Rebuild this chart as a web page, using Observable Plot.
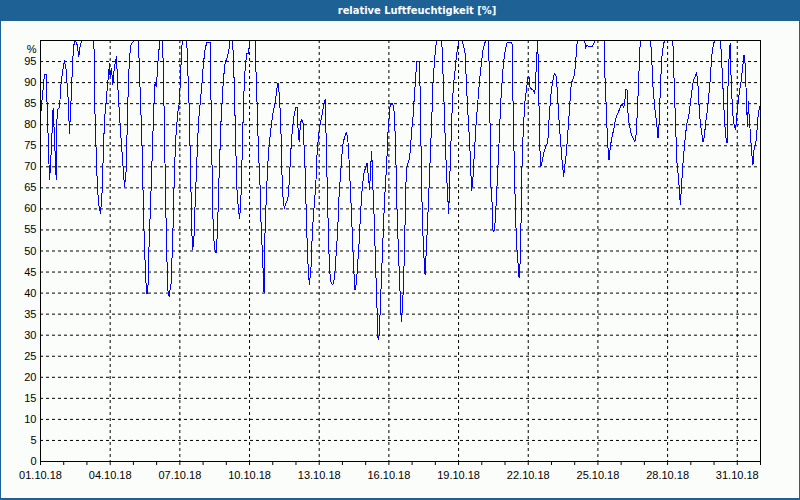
<!DOCTYPE html>
<html><head><meta charset="utf-8">
<script src="https://cdn.jsdelivr.net/npm/d3@7"></script>
<script src="https://cdn.jsdelivr.net/npm/@observablehq/plot@0.6"></script>
<style>
html,body{margin:0;padding:0;background:#fbfdfb;}
#wrap{position:relative;width:800px;height:500px;overflow:hidden;background:#fbfdfb;}
#bar{position:absolute;left:0;top:0;width:800px;height:21px;background:#1d6195;}
#title{position:absolute;left:0;top:0;width:834px;height:21px;line-height:21px;text-align:center;color:#fff;font-family:"DejaVu Sans Condensed","DejaVu Sans",sans-serif;font-stretch:condensed;font-weight:bold;font-size:11px;}
#chart{position:absolute;left:0;top:21px;}
#border{position:absolute;left:0;top:0;width:800px;height:500px;box-sizing:border-box;border:solid #1d6195;border-width:0 1px 2px 1px;pointer-events:none;}
</style></head>
<body><div id="wrap"><div id="bar"></div><div id="title">relative Luftfeuchtigkeit [%]</div><div id="chart"></div><div id="border"></div></div>
<script>
// hours after 01.10.18 00:00
const hours = [
0,4.1,5.8,9.3,10.3,13.0,13.7,16.2,17.2,19.6,21.3,23.0,24.8,26.5,28.9,29.9,31.0,32.7,34.1,35.8,37.8,39.6,40.9,42.7,55.1,55.8,56.4,58.5,59.9,61.9,63.3,66.1,69.5,71.3,71.9,73.3,74.7,76.4,78.5,79.9,82.6,85.0,86.8,88.5,90.2,91.9,93.6,96.4,101.2,102.2,104.7,106.7,108.1,109.5,110.9,111.9,114.3,117.1,118.4,119.8,121.2,123.3,126.0,127.0,128.8,130.1,131.5,132.9,135.0,136.7,138.4,140.1,141.8,143.6,146.0,147.4,
151.1,152.2,153.6,154.9,156.3,157.0,158.4,159.7,161.5,163.2,164.9,166.6,168.4,170.1,171.8,175.3,176.0,177.0,178.4,179.7,181.5,182.8,184.5,186.6,189.0,190.7,193.2,194.9,195.9,198.3,199.4,201.1,202.8,204.5,205.9,207.3,208.7,210.0,211.4,213.1,214.9,216.2,221.7,222.4,223.8,225.2,226.9,227.9,229.3,230.3,231.0,232.1,233.8,235.5,237.2,239.0,240.7,242.4,244.1,245.5,246.9,248.3,249.3,250.7,252.0,254.1,255.5,256.9,258.2,259.6,261.0,262.4,263.8,265.1,266.5,267.5,268.6,270.0,271.3,273.4,275.1,276.8,277.9,279.6,281.0,283.0,284.4,285.8,287.2,288.9,290.6,292.3,294.1,
295.4,296.5,298.2,299.6,301.6,303.0,304.4,305.8,307.1,308.5,309.9,311.3,312.7,314.4,316.1,317.5,318.8,320.6,322.3,323.7,325.0,326.4,327.8,329.2,330.9,332.6,334.3,336.1,337.4,338.8,340.2,340.9,342.3,343.6,345.0,346.4,347.8,348.8,349.8,350.9,352.6,354.0,355.4,356.7,357.8,358.8,359.8,361.2,362.9,364.3,365.7,367.1,368.4,369.8,371.2,372.2,372.9,374.3,375.7,376.7,377.4,378.8,380.8,382.2,383.6,385.0,386.3,387.7,388.8,391.2,392.2,393.6,394.6,396.0,397.4,398.7,400.1,401.5,402.9,404.3,405.6,407.0,408.4,409.4,414.6,415.3,417.0,418.7,420.4,421.8,423.2,424.9,426.6,428.4,429.7,431.1,432.5,435.9,438.7,441.1,443.5,444.9,445.6,
447.0,448.7,450.4,452.1,453.8,455.6,457.3,459.0,460.7,463.1,464.2,465.5,466.9,467.6,468.6,470.0,471.7,473.8,475.5,477.3,478.6,480.4,482.1,487.2,488.3,489.7,491.0,492.4,493.5,494.5,495.5,496.5,497.2,498.6,500.3,502.1,503.8,504.8,505.8,507.6,508.9,510.3,511.4,512.4,513.8,514.8,515.8,516.9,518.6,520.0,522.0,524.1,525.5,527.2,528.9,531.0,533.1,534.1,535.8,537.5,539.2,540.6,541.6,543.4,545.1,546.8,548.5,550.3,552.0,553.7,554.7,562.3,563.3,564.7,566.1,570.2,572.0,573.0,582.3,583.0,584.7,585.7,586.8,587.5,588.8,590.6,592.3,
594.0,595.7,597.4,599.2,600.9,602.6,603.6,604.7,606.1,607.4,608.8,610.2,611.6,613.0,614.3,615.7,617.1,618.5,619.8,630.2,631.2,632.9,635.0,637.0,638.1,639.5,640.5,642.2,643.9,645.7,652.5,653.6,654.9,656.3,657.7,659.4,660.5,661.2,662.5,663.9,665.3,666.7,668.0,669.8,671.5,673.2,674.9,676.7,677.7,679.1,680.4,681.8,683.2,684.6,686.0,687.3,688.7,690.4,692.1,693.5,695.6,697.3,702.5,703.5,705.2,706.6,708.0,709.4,710.4,711.8,712.8,713.8,715.6,717.0,718.3,719.7,720.7,722.5,724.2,725.6,726.9,728.0,729.0,730.0,730.7,731.4,732.1,733.5,734.8,736.2,737.6,739.0,740.4,741.7,743.1
];
// relative humidity in %
const humidity = [
82,92,92,67,69.7,84,81,67,83.5,84,90,93,95.2,93,85,78,82.7,92,98.6,100,99,96.2,98.6,100,100,93,81,67,61.4,59,62,81,90,94.6,91.4,93.4,89.5,93.8,96.2,89,78.8,70.9,65.3,69,85,96,99,100,100,93,77,56.6,47,40,40,49.5,65,84.3,89.9,89,94.6,100,100,93,69,53,40.8,39.2,42.4,53.4,69,78,82.7,85.5,98.6,100,
100,93,84.3,70.9,55.8,50.3,51.9,60.6,71,80.4,85,89,94.6,98,99.5,99.5,89,73.2,55.8,50.7,49.5,54.2,67.7,81.2,90.7,94.6,96.2,98.2,100,100,96.2,81.2,65.3,59.8,57.8,63.7,75.6,86.7,93,97,97,100,100,94.6,85,74,65.3,56.6,49.5,44,40,55.8,65.3,73.2,77.2,80.8,83.5,85,88.3,89.9,86.7,80.4,69.3,62.2,60.2,61.8,62,66,71.7,77.2,80.4,82.7,84,84.2,77.2,76,80.4,81.2,80.4,69.3,55,44.7,42,46.3,55,61.4,65.3,73.2,77.2,80,82,84.3,86,
74.8,63,48.7,42.8,42,42.4,45.5,50.3,55,63,67.7,72.4,75.6,77.2,78.1,76.8,71.7,63,53.4,45.5,40.8,42.4,47,51.9,59.8,65.3,68.5,70,70.9,67.7,64.5,69.3,73.6,64.5,56.6,45.5,36,28.9,29.7,35,45.5,53.4,61.4,66.9,70.9,77.2,80.4,84.3,85.1,84.7,82.7,73.2,59.8,50.3,42.4,36,33.3,37.6,47,56.6,65.3,70.3,71.5,74,78.8,82,86.7,91.4,95,95,89,69.3,57.4,49.5,44.3,50.3,57.4,65.3,73.2,81.2,89.9,94.6,98.6,100,100,96.2,85,73.2,64.5,59,69.3,81.2,89,93,96.2,98.2,100,100,97,85,75.6,67.7,64.4,
67.7,74.8,81.2,86,90.7,94.6,97.8,99.4,100,100,85,65.3,60.6,55,54.6,57.4,65.3,75.6,85,91.4,95,97.8,99.4,99.5,85,69.3,57.4,50.3,47,43.6,47,55.8,67.7,77.2,85,88.3,91.4,91.4,89,88.3,88.3,87.5,88.7,94.6,100,89,75.6,70,71.5,73.2,74.8,75.6,81.2,86.7,89.9,92.2,91.4,87.5,81.2,75.6,70.9,67.7,70,73.2,78.8,84.3,89.9,90.8,92.2,97,100,100,98.2,99,98.6,98.6,99.4,100,100,93,83.5,77.2,73.2,71.6,74.8,77.2,78.8,
81.2,82.3,83.1,84.3,85,84,85,88.3,88.3,81.2,79.6,78,77.2,76.4,76,78,85,93,100,100,97.8,89,83.5,79.6,76.8,81,89,96.2,99.4,100,100,98.6,89,79.6,70.9,67,63,61,66,70.9,74.8,78,80.4,82,85,88.3,90.7,91.4,92.4,90.7,85,80.4,78,76,77.2,80.4,82.7,86.7,90.7,96.2,99.4,100,100,97,89,82,77.2,75.6,89,97.8,99.4,89,82,79.6,78.8,82.7,85,88.3,90.7,93.8,96.6,94.6,89,82.7,79.6,85.5,82.7,78,73.6,70.5,74.8,75.2,78.8,82.7,84.3
];
const yTicks = [0,5,10,15,20,25,30,35,40,45,50,55,60,65,70,75,80,85,90,95];
const yGridValues = [5,10,15,20,25,30,35,40,45,50,55,60,65,70,75,80,85,90,95];
const dayTicks = [1,2,3,4,5,6,7,8,9,10,11,12,13,14,15,16,17,18,19,20,21,22,23,24,25,26,27,28,29,30,31,32];
const labelDays = [1,4,7,10,13,16,19,22,25,28,31];
const gridDays = [4,7,10,13,16,19,22,25,28,31];

const day = d => new Date(Date.UTC(2018, 9, d));
const t0 = day(1), t1 = day(32);
const data = hours.map((h, i) => ({date: new Date(t0.getTime() + h * 3600e3), value: humidity[i]}));
const fmt = d3.utcFormat("%d.%m.%y");

const chart = Plot.plot({
  width: 800, height: 479,
  marginLeft: 40, marginRight: 40, marginTop: 19, marginBottom: 39,
  style: {background: "transparent", fontFamily: "Liberation Sans", fontSize: "11px", color: "#000"},
  x: {type: "utc", domain: [t0, t1], label: null},
  y: {domain: [0, 100], label: null},
  marks: [
    Plot.gridY(yGridValues, {stroke: "#000", strokeOpacity: 1, strokeDasharray: "3,3"}),
    Plot.gridX(gridDays.map(day), {stroke: "#000", strokeOpacity: 1, strokeDasharray: "3,3"}),
    Plot.line(data, {x: "date", y: "value", stroke: "#0000ff", strokeWidth: 1, shapeRendering: "crispEdges"}),
    Plot.ruleY([0, 100], {stroke: "#000"}),
    Plot.ruleX([t0, t1], {stroke: "#000"}),
    Plot.axisY(yTicks, {tickSize: 0, tickPadding: 4, label: null, fill: "#000"}),
    Plot.text(["%"], {frameAnchor: "top-left", textAnchor: "end", dx: -4, dy: 5, fill: "#000"}),
    Plot.axisX(dayTicks.map(day), {tickSize: 4, tickFormat: () => "", label: null, stroke: "#000"}),
    Plot.axisX(labelDays.map(day), {tickSize: 0, tickPadding: 10, tickFormat: fmt, label: null, fill: "#000"})
  ]
});
document.getElementById("chart").appendChild(chart);
</script>
</body></html>
